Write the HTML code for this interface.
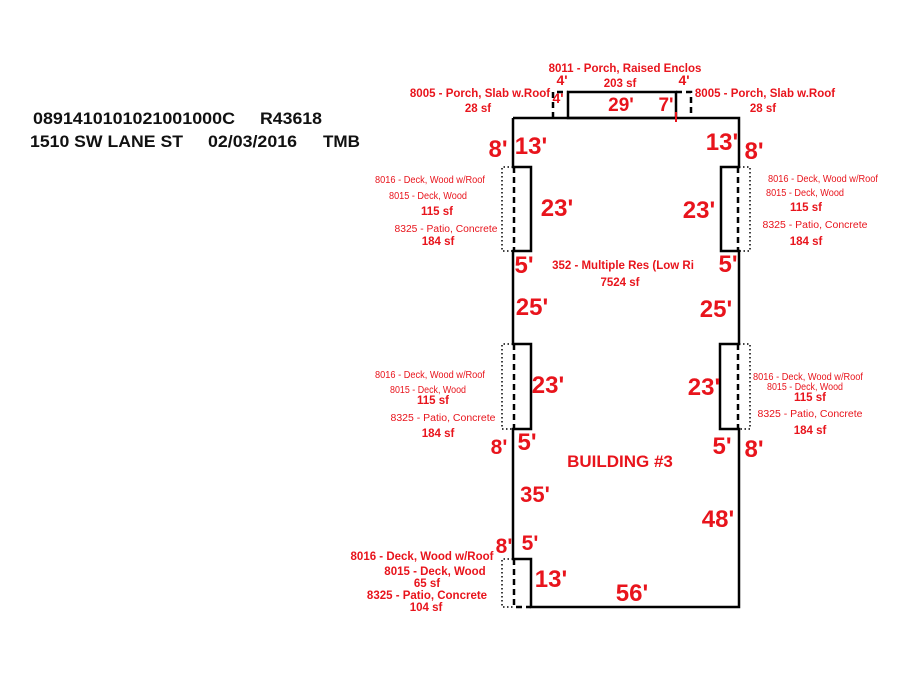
<!DOCTYPE html>
<html><head><meta charset="utf-8"><style>
html,body{margin:0;padding:0;background:#fff;width:900px;height:675px;overflow:hidden}
svg{display:block}
.h{font-family:"Liberation Sans",sans-serif;font-weight:bold;font-size:16.5px;fill:#111}
.r{font-family:"Liberation Sans",sans-serif;font-weight:bold;fill:#e8141c}
.s{font-size:10px;font-weight:normal}
.m{font-size:11.5px}
.b{font-size:24px}
</style></head><body>
<svg width="900" height="675" viewBox="0 0 900 675" xmlns="http://www.w3.org/2000/svg">
<text class="h" x="33" y="124" textLength="202" lengthAdjust="spacingAndGlyphs">0891410101021001000C</text>
<text class="h" x="260" y="124" textLength="62" lengthAdjust="spacingAndGlyphs">R43618</text>
<text class="h" x="30" y="147" textLength="153" lengthAdjust="spacingAndGlyphs">1510 SW LANE ST</text>
<text class="h" x="208" y="147" textLength="89" lengthAdjust="spacingAndGlyphs">02/03/2016</text>
<text class="h" x="323" y="147" textLength="37" lengthAdjust="spacingAndGlyphs">TMB</text>

<g fill="none" stroke="#000" stroke-width="2.5">
<polyline points="513,118 739,118 739,167 721,167 721,251 739,251 739,344 720,344 720,429 739,429 739,607 531,607 531,559 513,559 513,429 531,429 531,344 513,344 513,251 531,251 531,167 513,167 513,118"/>
<rect x="568" y="92" width="108" height="26"/>
</g>
<g fill="none" stroke="#000" stroke-width="2.5" stroke-dasharray="6,4">
<polyline points="553,118 553,92 568,92"/>
<polyline points="676,92 691,92 691,118"/>
<line x1="514" y1="167" x2="514" y2="251"/>
<line x1="738" y1="167" x2="738" y2="251"/>
<line x1="514" y1="344" x2="514" y2="429"/>
<line x1="738" y1="344" x2="738" y2="429"/>
<polyline points="514,559 514,607 531,607"/>
</g>
<g fill="none" stroke="#000" stroke-width="1.5" stroke-dasharray="1.5,2.5">
<polyline points="513,167 502,167 502,251 513,251"/>
<polyline points="739,167 750,167 750,251 739,251"/>
<polyline points="513,344 502,344 502,429 513,429"/>
<polyline points="739,344 750,344 750,429 739,429"/>
<polyline points="513,559 502,559 502,607 513,607"/>
</g>
<line x1="676" y1="112" x2="676" y2="122" stroke="#e8141c" stroke-width="2"/>

<g class="r m" text-anchor="middle">
<text x="625" y="72">8011 - Porch, Raised Enclos</text>
<text x="620" y="87">203 sf</text>
<text x="480" y="97">8005 - Porch,  Slab w.Roof</text>
<text x="478" y="112">28 sf</text>
<text x="765" y="97">8005 - Porch,  Slab w.Roof</text>
<text x="763" y="112">28 sf</text>
<text x="623" y="269">352 - Multiple Res (Low Ri</text>
<text x="620" y="286">7524 sf</text>
<text x="437" y="215">115 sf</text>
<text x="438" y="245">184 sf</text>
<text x="806" y="211">115 sf</text>
<text x="806" y="245">184 sf</text>
<text x="433" y="404">115 sf</text>
<text x="438" y="437">184 sf</text>
<text x="810" y="401">115 sf</text>
<text x="810" y="434">184 sf</text>
<text x="435" y="575">8015 - Deck, Wood</text>
<text x="427" y="587">65 sf</text>
<text x="426" y="611">104 sf</text>
<text x="422" y="560">8016 - Deck, Wood w/Roof</text>
<text x="427" y="599">8325 - Patio, Concrete</text>
</g>
<g class="r s" text-anchor="middle">
<text x="430" y="183" textLength="110" lengthAdjust="spacingAndGlyphs">8016 - Deck, Wood w/Roof</text>
<text x="428" y="199" textLength="78" lengthAdjust="spacingAndGlyphs">8015 - Deck, Wood</text>
<text x="446" y="232" textLength="103" lengthAdjust="spacingAndGlyphs">8325 - Patio, Concrete</text>
<text x="823" y="182" textLength="110" lengthAdjust="spacingAndGlyphs">8016 - Deck, Wood w/Roof</text>
<text x="805" y="196" textLength="78" lengthAdjust="spacingAndGlyphs">8015 - Deck, Wood</text>
<text x="815" y="228" textLength="105" lengthAdjust="spacingAndGlyphs">8325 - Patio, Concrete</text>
<text x="430" y="378" textLength="110" lengthAdjust="spacingAndGlyphs">8016 - Deck, Wood w/Roof</text>
<text x="428" y="393" textLength="76" lengthAdjust="spacingAndGlyphs">8015 - Deck, Wood</text>
<text x="443" y="421" textLength="105" lengthAdjust="spacingAndGlyphs">8325 - Patio, Concrete</text>
<text x="808" y="380" textLength="110" lengthAdjust="spacingAndGlyphs">8016 - Deck, Wood w/Roof</text>
<text x="805" y="390" textLength="76" lengthAdjust="spacingAndGlyphs">8015 - Deck, Wood</text>
<text x="810" y="417" textLength="105" lengthAdjust="spacingAndGlyphs">8325 - Patio, Concrete</text>
</g>
<g class="r" font-size="14" text-anchor="middle">
<text x="562" y="85">4'</text>
<text x="684" y="85">4'</text>
<text x="558" y="103">4'</text>
</g>
<g class="r" font-size="19" text-anchor="middle">
<text x="621" y="111">29'</text>
<text x="666" y="111">7'</text>
</g>
<text class="r" font-size="17" x="620" y="467" text-anchor="middle">BUILDING #3</text>
<g class="r b" text-anchor="middle">
<text x="498" y="157">8'</text>
<text x="531" y="154">13'</text>
<text x="722" y="150">13'</text>
<text x="754" y="159">8'</text>
<text x="557" y="216">23'</text>
<text x="699" y="218">23'</text>
<text x="524" y="273">5'</text>
<text x="728" y="272">5'</text>
<text x="532" y="315">25'</text>
<text x="716" y="317">25'</text>
<text x="548" y="393">23'</text>
<text x="704" y="395">23'</text>
<text x="499" y="454" font-size="21">8'</text>
<text x="527" y="450">5'</text>
<text x="722" y="454">5'</text>
<text x="754" y="457">8'</text>
<text x="535" y="502" font-size="22">35'</text>
<text x="718" y="527">48'</text>
<text x="504" y="553" font-size="21">8'</text>
<text x="530" y="550" font-size="21">5'</text>
<text x="551" y="587">13'</text>
<text x="632" y="601">56'</text>
</g>
</svg>
</body></html>
